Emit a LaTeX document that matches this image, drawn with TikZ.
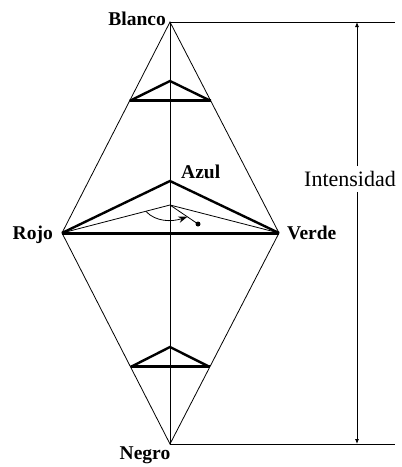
\documentclass[tikz,border=0pt]{standalone}
\usepackage{fontspec}
\setmainfont{Liberation Serif}
\usepackage{xcolor}
\usepackage{tikz}
\usetikzlibrary{arrows.meta,calc,positioning}
\definecolor{hsInk}{HTML}{000000}
\tikzset{
  hs diagram/.style={x=1pt, y=-1pt, text=hsInk},
  hs thin/.style={draw=hsInk, line width=0.8pt},
  hs thick/.style={draw=hsInk, line width=2.4pt},
  hs base/.style={draw=hsInk, line width=3pt},
  hs vertex/.style={font=\bfseries\fontsize{19.5}{22}\selectfont, inner sep=0pt},
  hs label/.style={font=\fontsize{22}{25}\selectfont, inner xsep=1pt, inner ysep=5pt},
  hs range/.style={-{Latex[length=5pt,width=4pt]}, draw=hsInk, line width=0.8pt},
  hs hue/.style={-{Stealth[length=9pt,width=6.5pt]}, draw=hsInk, line width=0.8pt}
}

\begin{document}
\begin{tikzpicture}[hs diagram]
\useasboundingbox (0,0) rectangle (402,467);
% vertices of the double cone
\coordinate (white) at (170,22);
\coordinate (black) at (170,444);
\coordinate (red) at (62,233);
\coordinate (green) at (279,233);
\coordinate (blue) at (170,181);
\coordinate (grey) at (170,205);
\coordinate (dot) at (198,224);
\coordinate (wend) at (395,22);
\coordinate (bend) at (395,444);
% outline and grey axis
\draw[hs thin] (white) -- (red) -- (black) -- (green) -- cycle;
\draw[hs thin] (white) -- (black);
% sections
\draw[hs thick] ($(white)!0.374!(red)$) -- (170,81) -- ($(white)!0.374!(green)$);
\draw[hs base] ($(white)!0.374!(red)$) -- ($(white)!0.374!(green)$);
\draw[hs thick] ($(black)!0.365!(red)$) -- (170,347) -- ($(black)!0.365!(green)$);
\draw[hs base] ($(black)!0.365!(red)$) -- ($(black)!0.365!(green)$);
\draw[hs thick] (red) -- (blue) -- (green);
\draw[hs base] (red) -- (green);
\draw[hs thin] (red) -- (grey) -- (green);
% hue angle
\draw[hs thin] (grey) -- (dot);
\fill[hsInk] (dot) circle (2.5);
\draw[hs hue] (146,211.5) .. controls (156,222) and (172,222) .. ($(grey)!0.62!(dot)$);
% labels
\node[hs vertex, anchor=base east] (lblanco) at (166,25) {Blanco};
\node[hs vertex, anchor=base] (lnegro) at (145,459) {Negro};
\node[hs vertex, anchor=base east] (lrojo) at (53,239) {Rojo};
\node[hs vertex, anchor=base west] (lverde) at (287,239) {Verde};
\node[hs vertex, anchor=base west] (lazul) at (181,178) {Azul};
% intensity
\draw[hs thin] (white) -- (wend);
\draw[hs thin] (black) -- (bend);
\node[hs label] (lint) at (350,179) {Intensidad};
\draw[hs range] (lint.north -| 357,0) -- (357,22);
\draw[hs range] (lint.south -| 357,0) -- (357,444);
\end{tikzpicture}
\end{document}
